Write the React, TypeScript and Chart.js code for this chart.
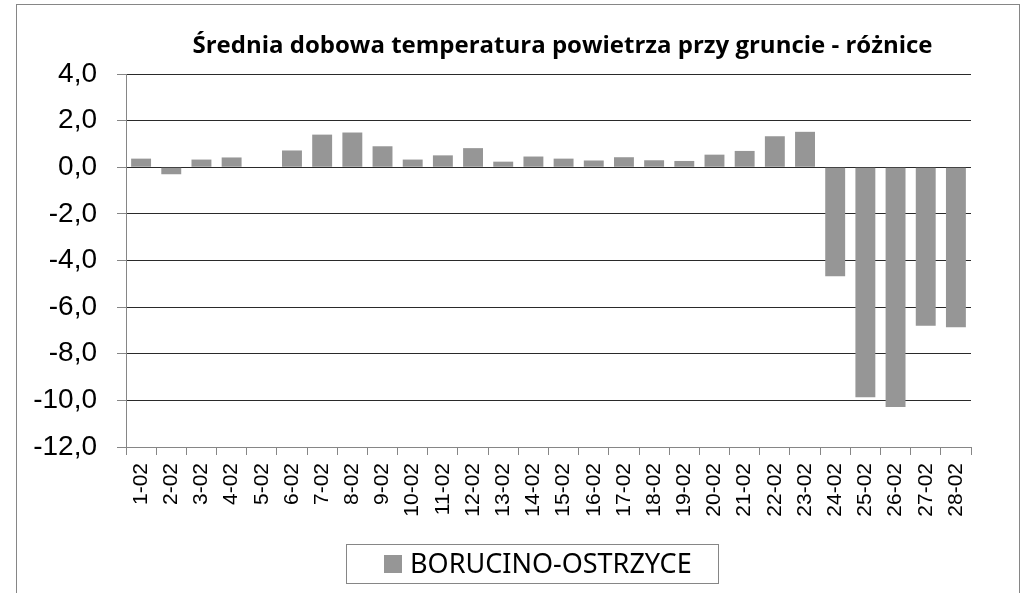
import React, { useEffect, useRef } from "react";
import { Chart, registerables } from "chart.js";

Chart.register(...registerables);

const TITLE = "Średnia dobowa temperatura powietrza przy gruncie - różnice";
const SERIES_NAME = "BORUCINO-OSTRZYCE";
const CATEGORIES = [
  "1-02", "2-02", "3-02", "4-02", "5-02", "6-02", "7-02", "8-02", "9-02", "10-02",
  "11-02", "12-02", "13-02", "14-02", "15-02", "16-02", "17-02", "18-02", "19-02", "20-02",
  "21-02", "22-02", "23-02", "24-02", "25-02", "26-02", "27-02", "28-02",
];
const VALUES = [
  0.37, -0.3, 0.33, 0.42, 0.0, 0.72, 1.4, 1.49, 0.9, 0.33,
  0.51, 0.82, 0.24, 0.46, 0.37, 0.29, 0.43, 0.3, 0.27, 0.54,
  0.7, 1.33, 1.52, -4.68, -9.87, -10.28, -6.8, -6.86,
];
const Y_MIN = -12;
const Y_MAX = 4;
const Y_STEP = 2;

const BAR_COLOR = "#969696";
const AXIS_COLOR = "#868686";
const GRID_COLOR = "#2a2a2a";

const decorPlugin = {
  id: "decor",
  afterDraw(chart: any) {
    const ctx = chart.ctx as CanvasRenderingContext2D;
    const area = chart.chartArea;
    ctx.save();
    // outer frame
    ctx.strokeStyle = AXIS_COLOR;
    ctx.lineWidth = 1;
    ctx.strokeRect(16.5, 4.5, 1003, 620);
    // title
    ctx.fillStyle = "#000";
    ctx.font = "bold 24px 'Open Sans'";
    ctx.textAlign = "center";
    ctx.textBaseline = "alphabetic";
    ctx.fillText(TITLE, (area.left + area.right) / 2 + 14, 53);
    // legend
    const label = chart.data.datasets[0].label;
    ctx.strokeRect(346.5, 544.5, 372, 39);
    ctx.fillStyle = BAR_COLOR;
    ctx.fillRect(384, 555, 18, 18);
    ctx.fillStyle = "#000";
    ctx.font = "27px 'Noto Sans'";
    ctx.textAlign = "left";
    ctx.textBaseline = "middle";
    ctx.fillText(label, 410, 565);
    ctx.restore();
  },
};

export default function App() {
  const ref = useRef<HTMLCanvasElement | null>(null);
  useEffect(() => {
    const canvas = ref.current;
    if (!canvas) return;
    const chart = new Chart(canvas, {
      type: "bar",
      data: {
        labels: CATEGORIES,
        datasets: [
          {
            label: SERIES_NAME,
            data: VALUES,
            backgroundColor: BAR_COLOR,
            borderWidth: 0,
            barPercentage: 0.66,
            categoryPercentage: 1,
          },
        ],
      },
      options: {
        responsive: false,
        animation: false,
        layout: { padding: { left: 0, right: 52, top: 74, bottom: 0 } },
        plugins: {
          legend: { display: false },
          title: { display: false },
          tooltip: { enabled: false },
        },
        scales: {
          x: {
            offset: true,
            grid: {
              offset: true,
              drawOnChartArea: false,
              drawTicks: true,
              tickLength: 8,
              color: AXIS_COLOR,
            },
            border: { display: true, color: AXIS_COLOR },
            ticks: {
              autoSkip: false,
              maxRotation: 90,
              minRotation: 90,
              padding: 8,
              color: "#000",
              font: { family: "'Liberation Sans', Arial", size: 21 },
            },
            afterFit: (scale: any) => {
              scale.height = 146;
            },
          },
          y: {
            min: Y_MIN,
            max: Y_MAX,
            grid: {
              color: (c: any) => (c.tick && c.tick.value === Y_MIN ? AXIS_COLOR : GRID_COLOR),
              tickColor: AXIS_COLOR,
              tickLength: 9,
              drawTicks: true,
            },
            border: { display: true, color: AXIS_COLOR },
            ticks: {
              stepSize: Y_STEP,
              padding: 20,
              color: "#000",
              font: { family: "'Liberation Sans', Arial", size: 28 },
              callback: (v: any) => Number(v).toFixed(1).replace(".", ","),
            },
            afterFit: (scale: any) => {
              scale.width = 126;
            },
          },
        },
      },
      plugins: [decorPlugin],
    });
    return () => chart.destroy();
  }, []);
  return (
    <canvas
      ref={ref}
      width={1023}
      height={593}
      style={{ position: "fixed", left: 0, top: 0, width: 1023, height: 593, display: "block", background: "#fff" }}
    />
  );
}
